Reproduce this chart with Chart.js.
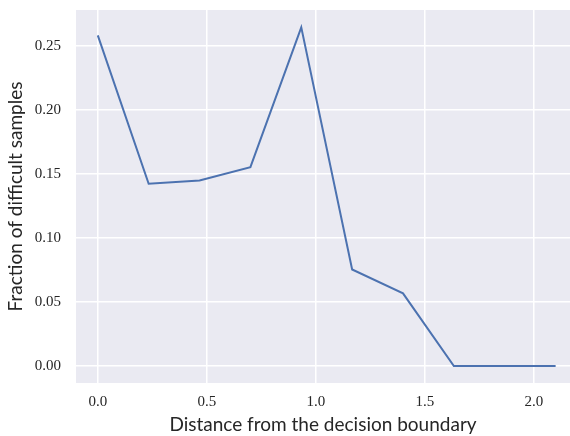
<!DOCTYPE html>
<html>
<head>
<meta charset="utf-8">
<script src="https://cdn.jsdelivr.net/npm/chart.js@4"></script>
<style>
  html, body { margin: 0; padding: 0; background: #fff; overflow: hidden; }
  #wrap { width: 570px; height: 436px; }
</style>
</head>
<body>
<div id="wrap"><canvas id="chart" width="570" height="436"></canvas></div>
<script>
const distances = [0, 0.2333, 0.4667, 0.7, 0.9333, 1.1667, 1.4, 1.6333, 1.8667, 2.1];
const fractions = [0.2585, 0.1425, 0.145, 0.1555, 0.2647, 0.0755, 0.0568, 0, 0, 0];
const xTicks = [0, 0.5, 1.0, 1.5, 2.0];
const yTicks = [0, 0.05, 0.10, 0.15, 0.20, 0.25];

const LINE_COLOR = "#4C72B0";
const PANEL_BG = "#EAEAF2";

const panelBackground = {
  id: "panelBackground",
  beforeDraw(chart) {
    const { ctx, chartArea } = chart;
    ctx.save();
    ctx.fillStyle = PANEL_BG;
    ctx.fillRect(chartArea.left, chartArea.top, chartArea.right - chartArea.left, chartArea.bottom - chartArea.top);
    ctx.restore();
  },
};

const tickFont = { family: "'Liberation Serif', serif", size: 15 };
const titleFont = { family: "Lato, 'DejaVu Sans', sans-serif", size: 19 };

new Chart(document.getElementById("chart"), {
  type: "line",
  data: {
    datasets: [{
      data: distances.map((x, i) => ({ x, y: fractions[i] })),
      borderColor: LINE_COLOR,
      borderWidth: 2,
      pointRadius: 0,
      tension: 0,
      fill: false,
    }],
  },
  options: {
    responsive: false,
    animation: false,
    layout: { padding: { top: 10, right: 0, left: 0, bottom: 0 } },
    plugins: {
      legend: { display: false },
      tooltip: { enabled: false },
    },
    scales: {
      x: {
        type: "linear",
        min: -0.1,
        max: 2.166,
        afterFit(scale) {
          scale.height = 53;
          scale.paddingLeft = 0;
          scale.paddingRight = 0;
        },
        afterBuildTicks(scale) { scale.ticks = xTicks.map(v => ({ value: v })); },
        grid: { color: "#ffffff", lineWidth: 1.5, drawTicks: false },
        border: { display: false },
        ticks: {
          font: tickFont,
          color: "#262626",
          padding: 10,
          maxRotation: 0,
          callback: v => v.toFixed(1),
        },
        title: {
          display: true,
          text: "Distance from the decision boundary",
          font: titleFont,
          color: "#262626",
          padding: { top: 0, bottom: 0 },
        },
      },
      y: {
        min: -0.01325,
        max: 0.2783,
        afterFit(scale) {
          scale.width = 76;
          scale.paddingTop = 0;
          scale.paddingBottom = 0;
        },
        afterBuildTicks(scale) { scale.ticks = yTicks.map(v => ({ value: v })); },
        grid: { color: "#ffffff", lineWidth: 1.5, drawTicks: false },
        border: { display: false },
        ticks: {
          font: tickFont,
          color: "#262626",
          padding: 15,
          callback: v => v.toFixed(2),
        },
        title: {
          display: true,
          text: "Fraction of difficult samples",
          font: titleFont,
          color: "#262626",
          padding: { top: 4, bottom: 0 },
        },
      },
    },
  },
  plugins: [panelBackground],
});
</script>
</body>
</html>
